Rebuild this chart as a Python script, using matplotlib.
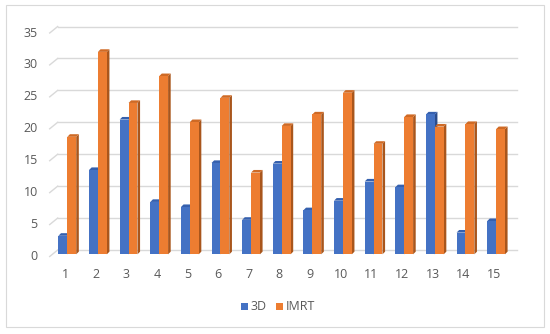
import matplotlib
matplotlib.use("Agg")
import matplotlib.pyplot as plt
from matplotlib.patches import Polygon, Rectangle

categories = [str(i) for i in range(1, 16)]
series_names = ["3D", "IMRT"]
values_3d = [2.9, 13.2, 21.1, 8.2, 7.4, 14.3, 5.4, 14.2, 6.9, 8.4, 11.4, 10.5, 21.9, 3.4, 5.2]
values_imrt = [18.4, 31.7, 23.7, 27.9, 20.7, 24.5, 12.8, 20.1, 21.9, 25.3, 17.3, 21.5, 20.0, 20.4, 19.6]
yticks = [0, 5, 10, 15, 20, 25, 30, 35]

W, H, DPI = 550, 334, 100
fig = plt.figure(figsize=(W / DPI, H / DPI), dpi=DPI)
fig.patch.set_facecolor("white")

# plot-area in pixels (front plane)
left_px, right_px = 49.7, 509.1
bot_px, top_px = 256.5, 33.0
ax = fig.add_axes([left_px / W, 1 - bot_px / H, (right_px - left_px) / W, (bot_px - top_px) / H])
ax.set_xlim(0.5, len(categories) + 0.5)
ax.set_ylim(0, 35)
ax.axis("off")

px_x = (len(categories)) / (right_px - left_px)   # data units per pixel (x)
px_y = 35 / (bot_px - top_px)                      # data units per pixel (y)

text_color = "#595959"
grid_color = "#D9D9D9"
font = "Open Sans"
fs = 9

# back-wall gridlines with perspective leaders
gx, gy = 8 * px_x, 6.5 * px_y
xl, xr = 0.5, len(categories) + 0.5
for t in yticks:
    ax.plot([xl, xl + gx], [t, t + gy], color=grid_color, lw=1.0, clip_on=False, zorder=1)
    ax.plot([xl + gx, xr + gx], [t + gy, t + gy], color=grid_color, lw=1.0, clip_on=False, zorder=1)
    ax.text(xl - 12 * px_x, t, str(t), ha="right", va="center", fontsize=fs,
            family=font, color=text_color)

# bars with pseudo-3D faces
sx, sy = 2.3 * px_x, 2.2 * px_y
bw = 8.9 * px_x
ddx, ddy = 2.6 * px_x, 2.6 * px_y
styles = [
    ("#4472C4", "#3560AE", "#2B4C8A"),
    ("#ED7D31", "#CF6A25", "#A9561C"),
]
z = 3
for i, cat in enumerate(categories):
    c = i + 1
    for k, vals in enumerate([values_3d, values_imrt]):
        v = vals[i]
        front, topc, sidec = styles[k]
        x0 = c + sx - bw + k * bw
        x1 = x0 + bw
        b0 = sy
        t0 = v + sy
        side = Polygon([(x1, b0), (x1, t0), (x1 + ddx, t0 + ddy), (x1 + ddx, b0 + ddy)],
                       closed=True, facecolor=sidec, edgecolor="none", zorder=z, clip_on=False)
        top = Polygon([(x0, t0), (x1, t0), (x1 + ddx, t0 + ddy), (x0 + ddx, t0 + ddy)],
                      closed=True, facecolor=topc, edgecolor="none", zorder=z, clip_on=False)
        ax.add_patch(side)
        ax.add_patch(top)
        ax.bar(x0, v, width=bw, bottom=b0, align="edge", color=front, edgecolor="none",
               zorder=z + 0.5, clip_on=False)
        z += 1
    ax.text(c, -17.5 * px_y, cat, ha="center", va="center", fontsize=fs,
            family=font, color=text_color)

# legend
leg_y = 306
for name, x_sq, x_tx, col in [(series_names[0], 241, 250.5, "#4472C4"),
                              (series_names[1], 276, 285.5, "#ED7D31")]:
    fig.patches.append(Rectangle((x_sq / W, 1 - (leg_y + 3.5) / H), 7 / W, 7 / H,
                                 transform=fig.transFigure, facecolor=col, edgecolor="none"))
    fig.text(x_tx / W, 1 - leg_y / H, name, ha="left", va="center", fontsize=fs,
             family=font, color=text_color)

# chart border
fig.patches.append(Rectangle((6 / W, 1 - 327 / H), (544 - 6) / W, (327 - 5) / H,
                             transform=fig.transFigure, facecolor="none",
                             edgecolor="#D9D9D9", lw=0.8))

fig.savefig("out.png", dpi=DPI)
